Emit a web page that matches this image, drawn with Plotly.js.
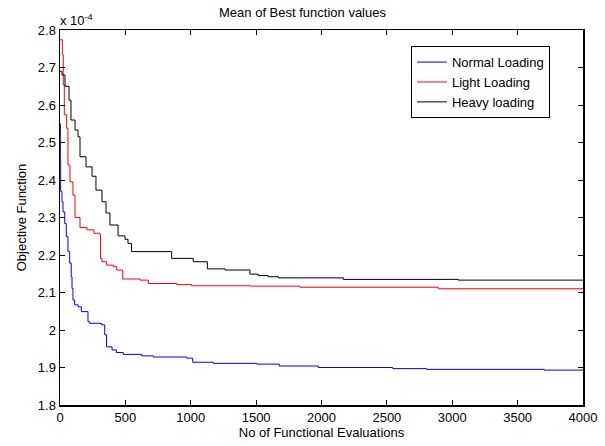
<!DOCTYPE html>
<html>
<head>
<meta charset="utf-8">
<script src="https://cdn.plot.ly/plotly-3.0.1.min.js"></script>
<style>html,body{margin:0;padding:0;background:#fff;}#chart{width:605px;height:446px;}</style>
</head>
<body>
<div id="chart"></div>
<script>
// Values in units of 1e-4 (axis shows "x 10^-4")
const normalX = [0, 3, 5, 15, 23, 36, 48, 61, 74, 86, 92, 99, 112, 138, 163, 214, 227, 316, 342, 356, 398, 431, 484, 625, 714, 969, 1015, 1172, 1504, 1677, 1975, 2545, 2805, 3704, 4000];
const normalY = [2.55, 2.45, 2.37, 2.342, 2.315, 2.284, 2.249, 2.209, 2.178, 2.142, 2.111, 2.08, 2.067, 2.062, 2.049, 2.022, 2.018, 2.014, 1.987, 1.955, 1.947, 1.94, 1.935, 1.931, 1.928, 1.925, 1.914, 1.911, 1.909, 1.904, 1.900, 1.897, 1.895, 1.893, 1.893];

const lightX = [0, 18, 25, 33, 51, 61, 76, 99, 115, 153, 207, 260, 306, 310, 321, 357, 408, 434, 480, 612, 675, 892, 1007, 1453, 1836, 2893, 4000];
const lightY = [2.774, 2.734, 2.654, 2.574, 2.538, 2.44, 2.395, 2.36, 2.30, 2.273, 2.267, 2.258, 2.253, 2.191, 2.182, 2.173, 2.169, 2.16, 2.136, 2.133, 2.124, 2.121, 2.118, 2.117, 2.114, 2.110, 2.110];

const heavyX = [0, 15, 38, 69, 84, 115, 138, 153, 199, 245, 275, 321, 352, 382, 444, 497, 520, 547, 854, 1019, 1127, 1262, 1453, 1517, 1593, 1670, 2167, 3046, 4000];
const heavyY = [2.69, 2.68, 2.65, 2.613, 2.56, 2.533, 2.515, 2.462, 2.435, 2.41, 2.373, 2.342, 2.312, 2.28, 2.251, 2.242, 2.231, 2.209, 2.191, 2.182, 2.163, 2.16, 2.149, 2.145, 2.142, 2.139, 2.135, 2.133, 2.133];

const xTicks = [0, 500, 1000, 1500, 2000, 2500, 3000, 3500, 4000];
const yTicks = [1.8, 1.9, 2.0, 2.1, 2.2, 2.3, 2.4, 2.5, 2.6, 2.7, 2.8];
const yTickText = ["1.8", "1.9", "2", "2.1", "2.2", "2.3", "2.4", "2.5", "2.6", "2.7", "2.8"];

const names = ["Normal Loading", "Light Loading", "Heavy loading"];
const colors = ["#0000ff", "#ff0000", "#000000"];

const traces = [
  {x: normalX, y: normalY},
  {x: lightX, y: lightY},
  {x: heavyX, y: heavyY}
].map((t, i) => Object.assign(t, {
  type: "scatter", mode: "lines", name: names[i],
  line: {color: colors[i], width: 1, shape: "hv"}
}));

const fontFam = "Liberation Sans, Arial, Helvetica, sans-serif";

const layout = {
  width: 605, height: 446,
  margin: {l: 60, r: 22, t: 30, b: 41},
  paper_bgcolor: "#ffffff", plot_bgcolor: "#ffffff",
  font: {family: fontFam, size: 13, color: "#000"},
  title: {text: "Mean of Best function values", font: {size: 13, family: fontFam}, x: 0.5, xanchor: "center", y: 0.972, yanchor: "middle"},
  showlegend: true,
  legend: {x: 0.671, y: 0.957, xanchor: "left", yanchor: "top", bordercolor: "#000", borderwidth: 1, bgcolor: "#fff", font: {size: 13, family: fontFam}, tracegroupgap: 0},
  xaxis: {
    range: [0, 4000], tickvals: xTicks, ticks: "inside", ticklen: 5, tickcolor: "#000",
    showline: true, linecolor: "#000", linewidth: 1.5, mirror: "ticks",
    showgrid: false, zeroline: false,
    title: {text: "No of Functional Evaluations", font: {size: 13}, standoff: 3},
    tickfont: {size: 13}
  },
  yaxis: {
    range: [1.8, 2.8], tickvals: yTicks, ticktext: yTickText, ticks: "inside", ticklen: 5, tickcolor: "#000",
    showline: true, linecolor: "#000", linewidth: 1.5, mirror: "ticks",
    showgrid: false, zeroline: false,
    title: {text: "Objective Function", font: {size: 13}, standoff: 8},
    tickfont: {size: 13}
  },
  annotations: [{
    xref: "paper", yref: "paper", x: 0, y: 1, xanchor: "left", yanchor: "bottom",
    text: "x 10<sup>-4</sup>", showarrow: false, font: {size: 13, family: fontFam}, xshift: -2, yshift: 0
  }]
};

Plotly.newPlot("chart", traces, layout, {displayModeBar: false, staticPlot: true});
</script>
</body>
</html>
